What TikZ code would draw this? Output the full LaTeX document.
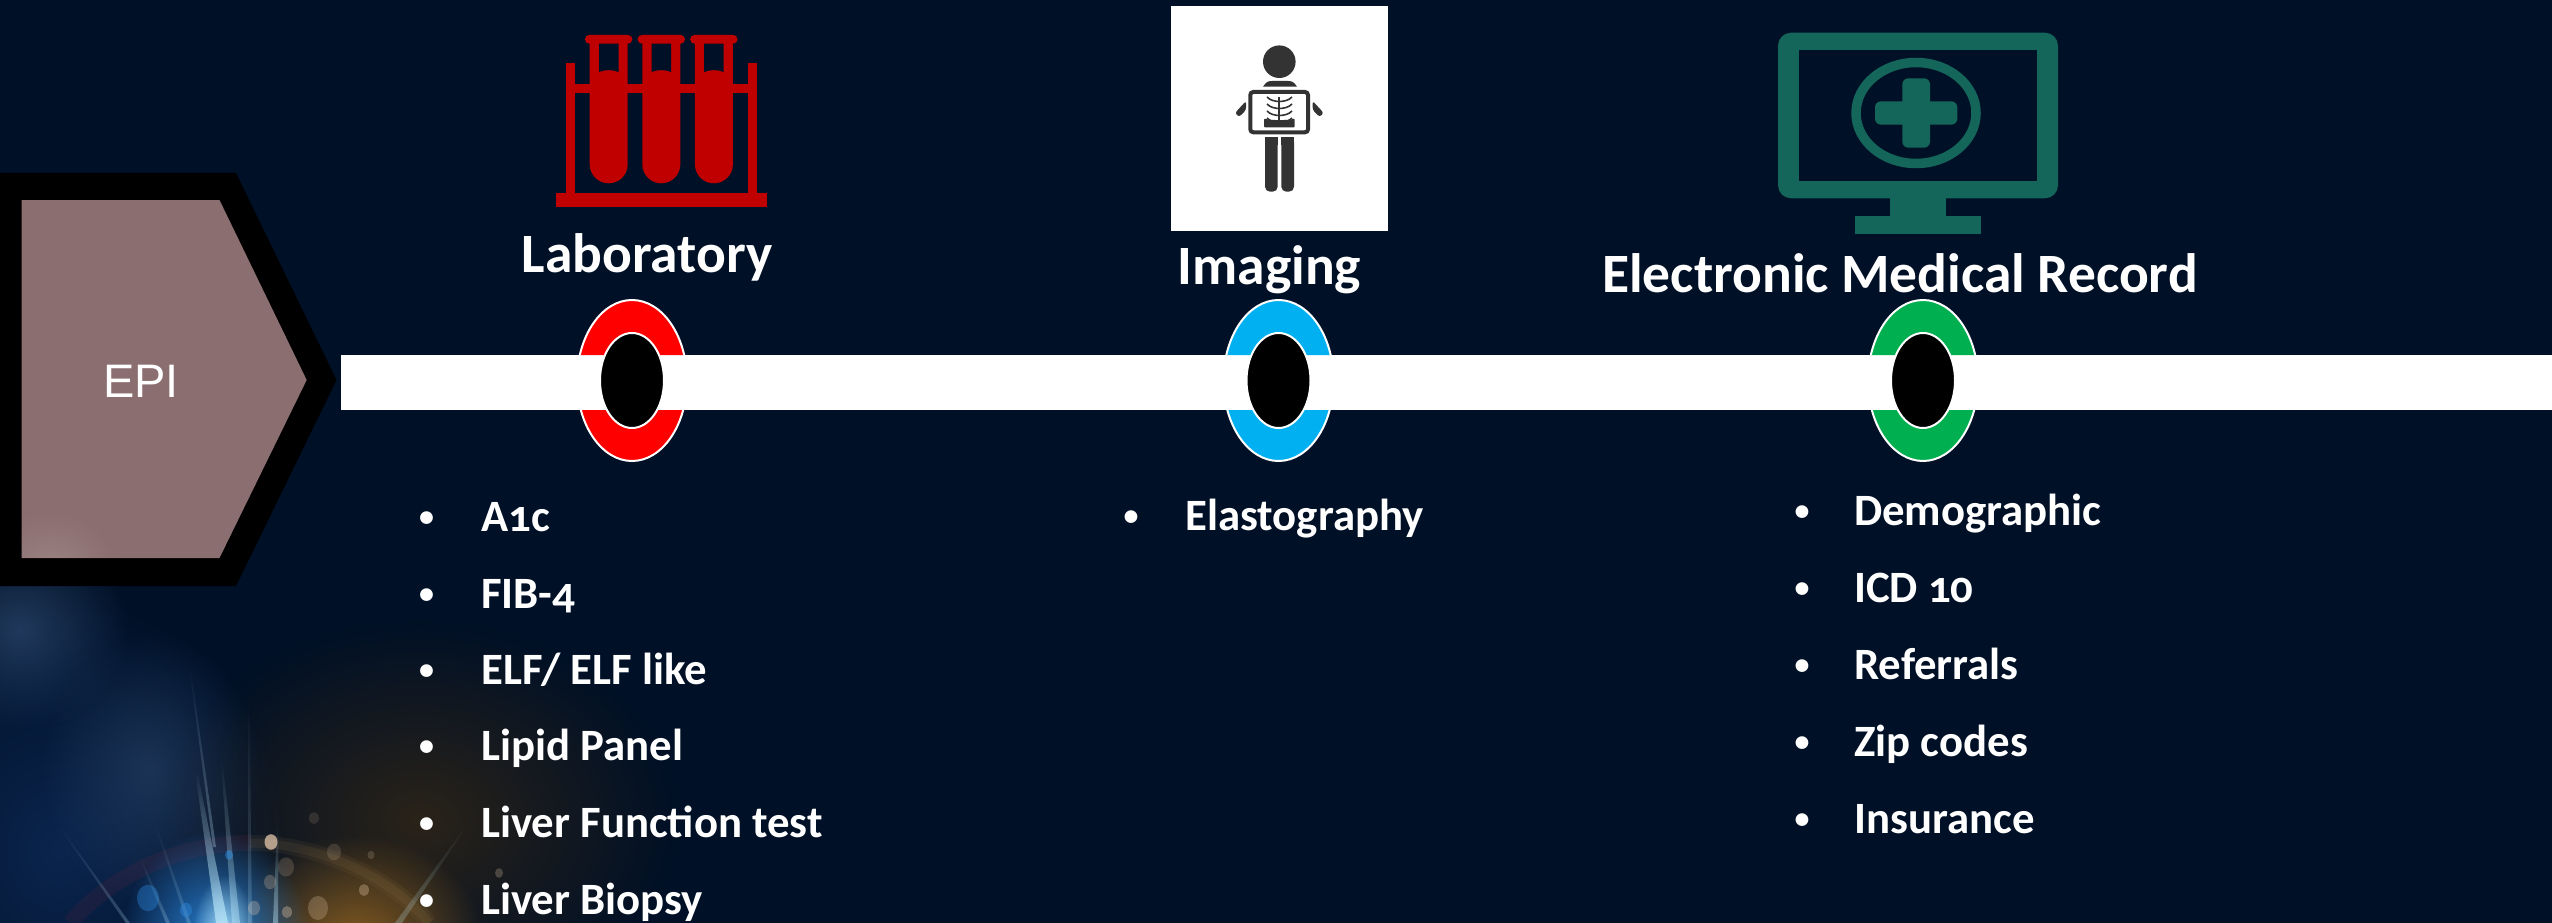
\documentclass[tikz,border=0pt]{standalone}
\usepackage{fontspec}
\setmainfont{Carlito}[Numbers=OldStyle]
\newfontfamily\epifont{Liberation Sans}
\usetikzlibrary{shapes.geometric,fadings}
\definecolor{bgnavy}{HTML}{001026}
\definecolor{labred}{HTML}{C00000}
\definecolor{emrgreen}{HTML}{14655A}
\definecolor{xray}{HTML}{333333}
\definecolor{epifill}{HTML}{8B6E6F}
\definecolor{mkb}{HTML}{00B0F0}
\definecolor{mkc}{HTML}{00B050}
\definecolor{hazeblue}{HTML}{2A4468}
\definecolor{deepblue}{HTML}{14366E}
\definecolor{amber}{HTML}{A87020}
\definecolor{flare}{HTML}{2F8FE8}
\tikzfading[name=glowfade, inner color=transparent!0, outer color=transparent!100]
\tikzset{
  x=1pt,y=-1pt,
  head/.style={anchor=base,inner sep=0pt,text=white,font=\fontsize{55.5}{66}\selectfont\bfseries},
  item/.style={anchor=base west,inner sep=0pt,text=white,font=\fontsize{44.8}{54}\selectfont\bfseries},
  bul/.style={anchor=base,inner sep=0pt,text=white,font=\fontsize{30}{38}\selectfont\bfseries},
  ringo/.style={ellipse,draw=white,line width=2pt,minimum width=110pt,minimum height=161pt,inner sep=0pt},
  ringi/.style={ellipse,draw=white,line width=2pt,fill=black,minimum width=64pt,minimum height=95pt,inner sep=0pt},
  glow/.style={path fading=glowfade},
  ray/.style={fill=white!75!cyan,path fading=north,opacity=.5},
}
\begin{document}
\begin{tikzpicture}
\useasboundingbox (0,0) rectangle (2552,923);
\fill[bgnavy] (0,0) rectangle (2552,923);
% background glow
\begin{scope}
\clip (0,0) rectangle (2552,923);
\fill[glow,color=hazeblue,opacity=.8] (20,630) ellipse (110 and 100);
\fill[glow,color=deepblue,opacity=.55] (60,850) ellipse (230 and 260);
\fill[glow,color=hazeblue,opacity=.6] (150,770) ellipse (110 and 140);
\fill[glow,color=amber!45!black,opacity=.55] (420,820) ellipse (260 and 200);
\fill[glow,color=amber,opacity=.8] (355,945) ellipse (130 and 110);
% lens-flare arc
\draw[line width=16pt,color=amber!70!white,opacity=.07] (250,843) .. controls (320,843) and (395,880) .. (429,923);
\draw[line width=9pt,color=amber!70!white,opacity=.09] (250,843) .. controls (320,843) and (395,880) .. (429,923);
\draw[line width=16pt,color=red!45!hazeblue,opacity=.13] (71,923) .. controls (100,885) and (170,843) .. (250,843);
\fill[glow,color=flare,opacity=.95] (215,945) ellipse (95 and 115);
\fill[glow,color=white!70!cyan,opacity=.95] (224,940) ellipse (32 and 65);
% rays
\fill[ray,opacity=.7] (195,770) -- (197,770) -- (228,923) -- (216,923) -- cycle;
\fill[ray,opacity=.3] (189,667) -- (190.5,667) -- (216,847) -- (213,847) -- cycle;
\fill[ray,opacity=.45] (221,760) -- (222.5,760) -- (240,923) -- (232,923) -- cycle;
\fill[ray,opacity=.22] (248,700) -- (249.5,700) -- (252,923) -- (248,923) -- cycle;
\fill[ray,opacity=.45] (277,825) -- (278.5,825) -- (278,923) -- (273,923) -- cycle;
\fill[ray,opacity=.25] (59,827) -- (60.5,827) -- (130,923) -- (126,923) -- cycle;
\fill[ray,opacity=.25] (139,857) -- (140.5,857) -- (170,923) -- (166,923) -- cycle;
\fill[ray,opacity=.2] (153,820) -- (154.5,820) -- (191,923) -- (187,923) -- cycle;
\fill[ray,opacity=.25] (468,823) -- (469,823) -- (402,923) -- (395,923) -- cycle;
% sparkles
\foreach \px/\py/\pr/\po in {271/842/6.5/.65,314/818/5/.12,334/852/7/.14,371/855/3.5/.16,286/867/8/.16,270/882/6/.22,318/908/10/.22,364/890/5/.28,254/908/6/.25,287/912/5/.3,499/873/4/.22}
  \fill[white!75!orange,opacity=\po] (\px,\py) ellipse (\pr pt and 1.2*\pr pt);
\foreach \px/\py/\pr/\po in {148/898/11/.35,229/855/4/.5,186/910/6/.4}
  \fill[flare,opacity=\po] (\px,\py) ellipse (\pr pt and 1.2*\pr pt);
\end{scope}
% timeline bar
\node[rectangle,fill=white,draw=none,minimum width=2211.3pt,minimum height=55pt,inner sep=0pt,anchor=west] (bar) at (340.7,382.5) {};
% EPI chevron
\fill[black] (0,173) -- (236,173) -- (336.5,380) -- (236,586) -- (0,586) -- cycle;
\begin{scope}
\clip (21.6,200) -- (219.5,200) -- (306.7,380) -- (219.5,558) -- (21.6,558) -- cycle;
\fill[epifill] (0,190) rectangle (320,570);
\fill[glow,color=white,opacity=.14] (50,570) ellipse (70 and 60);
\end{scope}
\node[inner sep=0pt,anchor=base,text=white,font=\fontsize{47}{56}\selectfont\epifont] (epi) at (141,397.7) {EPI};
% markers
\begin{scope}
\clip (0,0) rectangle (2552,355) (0,410) rectangle (2552,923);
\node[ringo,fill=red] (m1o) at (632,380.5) {};
\node[ringo,fill=mkb] (m2o) at (1278.5,380.5) {};
\node[ringo,fill=mkc] (m3o) at (1923,380.5) {};
\end{scope}
\node[ringi] (m1i) at (632,380.5) {};
\node[ringi] (m2i) at (1278.5,380.5) {};
\node[ringi] (m3i) at (1923,380.5) {};
% test tubes
\fill[labred] (556,192.7) rectangle (766.7,206.7);
\fill[labred] (565.7,62.7) rectangle (575,193);
\fill[labred] (747.7,62.7) rectangle (757,193);
\fill[labred] (570,83.7) rectangle (750,93);
\foreach \tx in {0,52.6,105.2} {
  \begin{scope}[xshift=\tx pt]
  \fill[labred,rounded corners=4.3pt] (585,35) rectangle (632.3,43.7);
  \fill[labred] (589.7,40) -- (627.7,40) -- (627.7,164.3) arc[start angle=0,end angle=-180,x radius=19,y radius=-19] -- cycle;
  \fill[bgnavy] (599,43.7) -- (618.5,43.7) -- (618.5,72) .. controls (613,69.5) and (604.5,69.5) .. (599,72) -- cycle;
  \end{scope}
}
% x-ray
\node[rectangle,fill=white,minimum width=217pt,minimum height=224.7pt,inner sep=0pt,anchor=north west] (ximg) at (1171,6) {};
\fill[xray] (1279.3,61.7) circle (16.3);
\fill[xray] (1263,86.7) .. controls (1266,82) and (1268,81) .. (1272,81) -- (1288,81) .. controls (1292,81) and (1294,82) .. (1297,86.7) -- cycle;
\draw[xray,line width=4pt,rounded corners=3pt] (1250.3,92) rectangle (1308,132.3);
\fill[xray,rounded corners=2.5pt] (1246,101) -- (1235,113) -- (1239,117) -- (1246,110) -- cycle;
\fill[xray,rounded corners=2.5pt] (1312.7,101) -- (1323.7,113) -- (1319.7,117) -- (1312.7,110) -- cycle;
\fill[xray,rounded corners=5pt] (1265,137.3) rectangle (1277.7,191.7);
\fill[xray] (1265,137.3) rectangle (1277.7,145);
\fill[xray,rounded corners=5pt] (1281.3,137.3) rectangle (1294,191.7);
\fill[xray] (1281.3,137.3) rectangle (1294,145);
\draw[xray,line width=1.7pt] (1279.3,97) -- (1279.3,121);
\foreach \ry in {97,104,111,118}
  \draw[xray,line width=1.6pt] (1267,\ry) .. controls (1270,\ry+3.5) and (1276,\ry+4.5) .. (1279.3,\ry+4.5) .. controls (1283,\ry+4.5) and (1289,\ry+3.5) .. (1292,\ry);
\fill[xray,rounded corners=1pt] (1264,118.5) .. controls (1270,120.5) and (1289,120.5) .. (1294.7,118.5) -- (1294.7,127.3) -- (1264,127.3) -- cycle;
% monitor
\fill[emrgreen,rounded corners=13pt] (1778,32.7) rectangle (2058,198.3);
\fill[bgnavy] (1799,50.3) rectangle (2037,181);
\fill[emrgreen] (1890,198) rectangle (1946,216);
\fill[emrgreen] (1855,216) rectangle (1981,233.7);
\draw[emrgreen,line width=9.5pt] (1916,113) ellipse (60 and 50.5);
\fill[emrgreen,rounded corners=6pt] (1875,101.3) rectangle (1957.3,124.7);
\fill[emrgreen,rounded corners=6pt] (1902.3,78.3) rectangle (1930,147.7);
% headings
\node[head] (h1) at (647,272.5) {Laboratory};
\node[head] (h2) at (1269.5,284.5) {Imaging};
\node[head] (h3) at (1900,292.5) {Electronic Medical Record};
% lists
\foreach \nm/\by/\tx in {l1/531/A1c,l2/608/FIB-4,l3/684/{ELF/ ELF like},l4/760/Lipid Panel,l5/837/Liver Function test,l6/914/Liver Biopsy} {
  \node[bul] (\nm b) at (426.5,\by-5) {•};
  \node[item] (\nm) at (481,\by) {\tx};
}
\node[bul] (e1b) at (1131,525) {•};
\node[item] (e1) at (1185,530) {Elastography};
\foreach \nm/\by/\tx in {r1/525/Demographic,r2/602/ICD 10,r3/679/Referrals,r4/756/Zip codes,r5/833/Insurance} {
  \node[bul] (\nm b) at (1802,\by-5) {•};
  \node[item] (\nm) at (1854,\by) {\tx};
}
\end{tikzpicture}
\end{document}
